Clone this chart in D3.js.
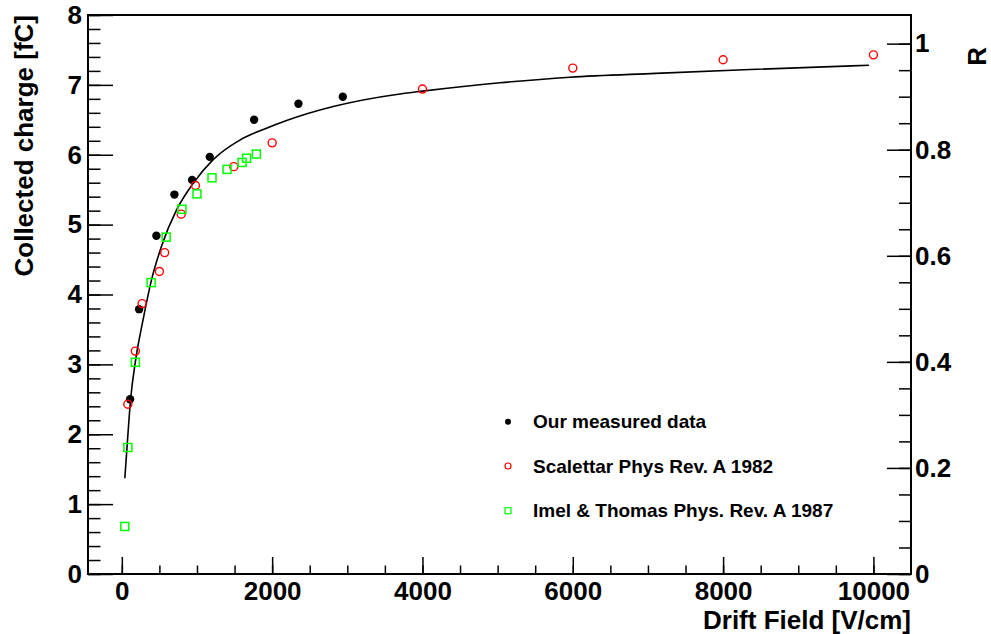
<!DOCTYPE html>
<html>
<head>
<meta charset="utf-8">
<script src="https://cdn.jsdelivr.net/npm/d3@7"></script>
<style>
  body { margin: 0; background: #fff; }
  svg { display: block; font-family: 'Liberation Sans', Arial, Helvetica, sans-serif; font-weight: bold; }
</style>
</head>
<body>
<svg width="991" height="634"></svg>
<script>
// Our measured data
const measuredField = [110, 230, 460, 700, 935, 1170, 1760, 2350, 2940]
const measuredCharge = [2.50, 3.79, 4.84, 5.43, 5.64, 5.97, 6.50, 6.73, 6.83]

// Scalettar Phys Rev. A 1982
const scalettarField = [80, 180, 270, 500, 570, 790, 980, 1490, 2000, 4000, 6000, 8000, 10000]
const scalettarCharge = [2.43, 3.19, 3.87, 4.33, 4.60, 5.15, 5.56, 5.83, 6.17, 6.94, 7.24, 7.36, 7.43]

// Imel & Thomas Phys. Rev. A 1987
const imelField = [40, 80, 180, 390, 590, 800, 1000, 1200, 1400, 1600, 1660, 1790]
const imelCharge = [0.68, 1.81, 3.03, 4.17, 4.82, 5.22, 5.44, 5.67, 5.79, 5.89, 5.95, 6.01]

// fit line
const fitField = [40, 76, 116, 182, 283, 395, 528, 728, 949, 1215, 1570, 1925, 2192, 2812, 3700, 4000, 5030, 5960, 7100, 8360, 9940]
const fitCharge = [1.37, 1.92, 2.49, 3.05, 3.64, 4.21, 4.69, 5.21, 5.59, 5.93, 6.21, 6.38, 6.49, 6.69, 6.87, 6.91, 7.03, 7.11, 7.165, 7.22, 7.28]

// ticks
const xMajor = [0, 2000, 4000, 6000, 8000, 10000]
const xMinor = d3.range(0, 10001, 500)
const yMajor = [0, 1, 2, 3, 4, 5, 6, 7, 8]
const yMinor = d3.range(0, 8.01, 0.2)
const rMajor = [0, 0.2, 0.4, 0.6, 0.8, 1]
const rMinor = d3.range(0, 1.001, 0.05)

const legendLabels = ['Our measured data', 'Scalettar Phys Rev. A 1982', 'Imel & Thomas Phys. Rev. A 1987']

// frame edges
const frameLeft = 88, frameRight = 911, frameTop = 15, frameBottom = 574

const svg = d3.select('svg')

const xScale = d3.scaleLinear().domain([-450, 10500]).range([frameLeft, frameRight])
const yScale = d3.scaleLinear().domain([0, 8]).range([frameBottom, frameTop])
const rScale = d3.scaleLinear().domain([0, 1.054]).range([frameBottom, frameTop])

const tickFont = (g) => {
  g.select('.domain').remove()
  g.selectAll('line').attr('stroke', '#000').attr('stroke-width', 1.5)
  g.selectAll('text').attr('font-size', 26).attr('font-weight', 'bold').attr('fill', '#000')
}

// x axis
svg.append('g')
  .attr('transform', `translate(0, ${frameBottom})`)
  .call(d3.axisBottom(xScale).tickValues(xMinor).tickSize(-8.5).tickFormat(''))
  .call(tickFont)
svg.append('g')
  .attr('transform', `translate(0, ${frameBottom})`)
  .call(d3.axisBottom(xScale).tickValues(xMajor).tickSize(-17).tickPadding(8).tickFormat(d3.format('d')))
  .call(tickFont)

// left y axis
svg.append('g')
  .attr('transform', `translate(${frameLeft}, 0)`)
  .call(d3.axisLeft(yScale).tickValues(yMinor).tickSize(-12.5).tickFormat(''))
  .call(tickFont)
svg.append('g')
  .attr('transform', `translate(${frameLeft}, 0)`)
  .call(d3.axisLeft(yScale).tickValues(yMajor).tickSize(-25).tickPadding(6).tickFormat(d3.format('d')))
  .call(tickFont)

// right R axis
svg.append('g')
  .attr('transform', `translate(${frameRight}, 0)`)
  .call(d3.axisRight(rScale).tickValues(rMinor).tickSize(-12).tickFormat(''))
  .call(tickFont)
svg.append('g')
  .attr('transform', `translate(${frameRight}, 0)`)
  .call(d3.axisRight(rScale).tickValues(rMajor).tickSize(-24).tickPadding(4).tickFormat(d3.format('~g')))
  .call(tickFont)

// frame box
svg.append('rect')
  .attr('x', frameLeft).attr('y', frameTop)
  .attr('width', frameRight - frameLeft).attr('height', frameBottom - frameTop)
  .attr('fill', 'none').attr('stroke', '#000').attr('stroke-width', 2)

// axis titles
svg.append('text')
  .attr('x', frameRight).attr('y', 629)
  .attr('text-anchor', 'end').attr('font-size', 26)
  .text('Drift Field [V/cm]')

svg.append('text')
  .attr('transform', `translate(33, ${frameTop}) rotate(-90)`)
  .attr('text-anchor', 'end').attr('font-size', 26)
  .text('Collected charge [fC]')

svg.append('text')
  .attr('transform', 'translate(986, 47) rotate(-90)')
  .attr('text-anchor', 'end').attr('font-size', 26)
  .text('R')

// fit line
const line = d3.line()
  .x((d) => xScale(d[0]))
  .y((d) => yScale(d[1]))
  .curve(d3.curveMonotoneX)

svg.append('path')
  .datum(fitField.map((f, i) => [f, fitCharge[i]]))
  .attr('d', line)
  .attr('fill', 'none').attr('stroke', '#000').attr('stroke-width', 1.6)

// measured: filled dots
svg.append('g')
  .selectAll('circle')
  .data(measuredField.map((f, i) => [f, measuredCharge[i]]))
  .enter()
  .append('circle')
  .attr('cx', (d) => xScale(d[0]))
  .attr('cy', (d) => yScale(d[1]))
  .attr('r', 4.2)
  .attr('fill', '#000')

// Scalettar: open red circles
svg.append('g')
  .selectAll('circle')
  .data(scalettarField.map((f, i) => [f, scalettarCharge[i]]))
  .enter()
  .append('circle')
  .attr('cx', (d) => xScale(d[0]))
  .attr('cy', (d) => yScale(d[1]))
  .attr('r', 4)
  .attr('fill', 'none').attr('stroke', '#ff0000').attr('stroke-width', 1.4)

// Imel & Thomas: open green squares
svg.append('g')
  .selectAll('rect')
  .data(imelField.map((f, i) => [f, imelCharge[i]]))
  .enter()
  .append('rect')
  .attr('x', (d) => xScale(d[0]) - 4)
  .attr('y', (d) => yScale(d[1]) - 4)
  .attr('width', 8).attr('height', 8)
  .attr('fill', 'none').attr('stroke', '#00ff00').attr('stroke-width', 1.5)

// legend
const legend = svg.append('g')
const rowY = [421.7, 466, 510.7]

legend.append('circle').attr('cx', 508).attr('cy', rowY[0]).attr('r', 3).attr('fill', '#000')
legend.append('circle').attr('cx', 508).attr('cy', rowY[1]).attr('r', 3)
  .attr('fill', 'none').attr('stroke', '#ff0000').attr('stroke-width', 1.2)
legend.append('rect').attr('x', 505).attr('y', rowY[2] - 3).attr('width', 6).attr('height', 6)
  .attr('fill', 'none').attr('stroke', '#00ff00').attr('stroke-width', 1.2)

legend.selectAll('text')
  .data(legendLabels)
  .enter()
  .append('text')
  .attr('x', 533)
  .attr('y', (d, i) => rowY[i])
  .attr('dy', '0.35em')
  .attr('font-size', 19)
  .text((d) => d)
</script>
</body>
</html>
